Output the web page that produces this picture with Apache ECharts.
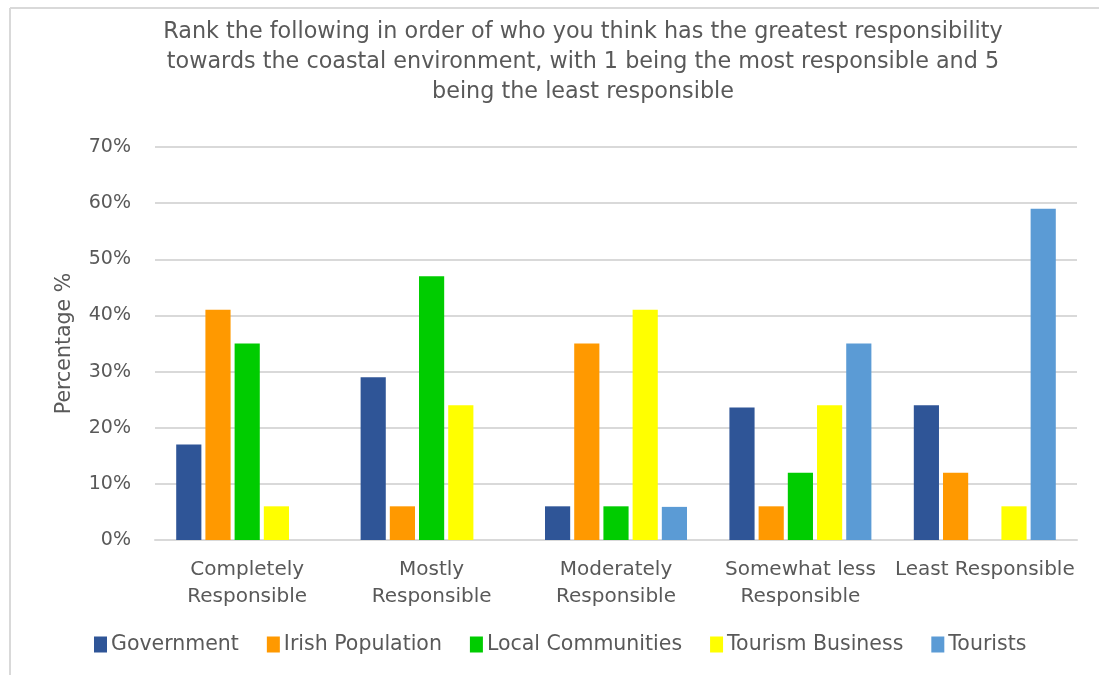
<!DOCTYPE html>
<html>
<head>
<meta charset="utf-8">
<script src="https://cdn.jsdelivr.net/npm/echarts@6/dist/echarts.min.js"></script>
<style>
html,body{margin:0;padding:0;background:#fff;}
#chart{width:1099px;height:675px;}
</style>
</head>
<body>
<div id="chart"></div>
<script>
const titleText = "Rank the following in order of who you think has the greatest responsibility\ntowards the coastal environment, with 1 being the most responsible and 5\nbeing the least responsible";
const categories = ["Completely\nResponsible", "Mostly\nResponsible", "Moderately\nResponsible", "Somewhat less\nResponsible", "Least Responsible"];
const seriesNames = ["Government", "Irish Population", "Local Communities", "Tourism Business", "Tourists"];
const government = [17, 29, 6, 23.6, 24];
const irishPopulation = [41, 6, 35, 6, 12];
const localCommunities = [35, 47, 6, 12, 0];
const tourismBusiness = [6, 24, 41, 24, 6];
const tourists = [0, 0, 5.9, 35, 59];
const colors = ["#2F5597", "#FF9900", "#00CC00", "#FFFF00", "#5B9BD5"];
const yTicks = [0, 10, 20, 30, 40, 50, 60, 70];

const values = [government, irishPopulation, localCommunities, tourismBusiness, tourists];
const font = "DejaVu Sans";
const grey = "#595959";

const chart = echarts.init(document.getElementById('chart'));
chart.setOption({
  backgroundColor: '#ffffff',
  animation: false,
  color: colors,
  title: {
    text: titleText,
    left: 578,
    textAlign: 'center',
    top: 12,
    textStyle: { fontFamily: font, fontSize: 22.3, fontWeight: 'normal', color: grey, lineHeight: 30 }
  },
  graphic: [
    { type: 'line', shape: { x1: 10, y1: 8, x2: 1120, y2: 8 }, style: { stroke: '#D9D9D9', lineWidth: 2 }, silent: true },
    { type: 'line', shape: { x1: 10, y1: 8, x2: 10, y2: 700 }, style: { stroke: '#D9D9D9', lineWidth: 2 }, silent: true }
  ],
  legend: {
    data: seriesNames,
    bottom: 15,
    left: 89,
    icon: 'rect',
    itemWidth: 13,
    itemHeight: 16,
    itemGap: 28,
    textStyle: { fontFamily: font, fontSize: 20.5, color: grey, padding: [0, 0, 0, -1] }
  },
  grid: { left: 155, right: 22, top: 147, bottom: 135 },
  xAxis: {
    type: 'category',
    data: categories,
    axisLine: { lineStyle: { color: '#D9D9D9', width: 2 } },
    axisTick: { show: false },
    axisLabel: { fontFamily: font, fontSize: 20, color: grey, lineHeight: 27, margin: 16, interval: 0 }
  },
  yAxis: {
    type: 'value',
    min: yTicks[0],
    max: yTicks[yTicks.length - 1],
    interval: 10,
    name: 'Percentage %',
    nameLocation: 'middle',
    nameGap: 80,
    nameTextStyle: { fontFamily: font, fontSize: 20.5, color: grey },
    axisLine: { show: false },
    axisTick: { show: false },
    splitLine: { lineStyle: { color: '#D9D9D9', width: 2 } },
    axisLabel: { fontFamily: font, fontSize: 19, color: grey, margin: 24, formatter: v => v + '%' }
  },
  series: seriesNames.map((name, i) => ({
    name: name,
    type: 'bar',
    data: values[i],
    barGap: '16%',
    barCategoryGap: '23%',
    itemStyle: { color: colors[i] }
  }))
});
</script>
</body>
</html>
